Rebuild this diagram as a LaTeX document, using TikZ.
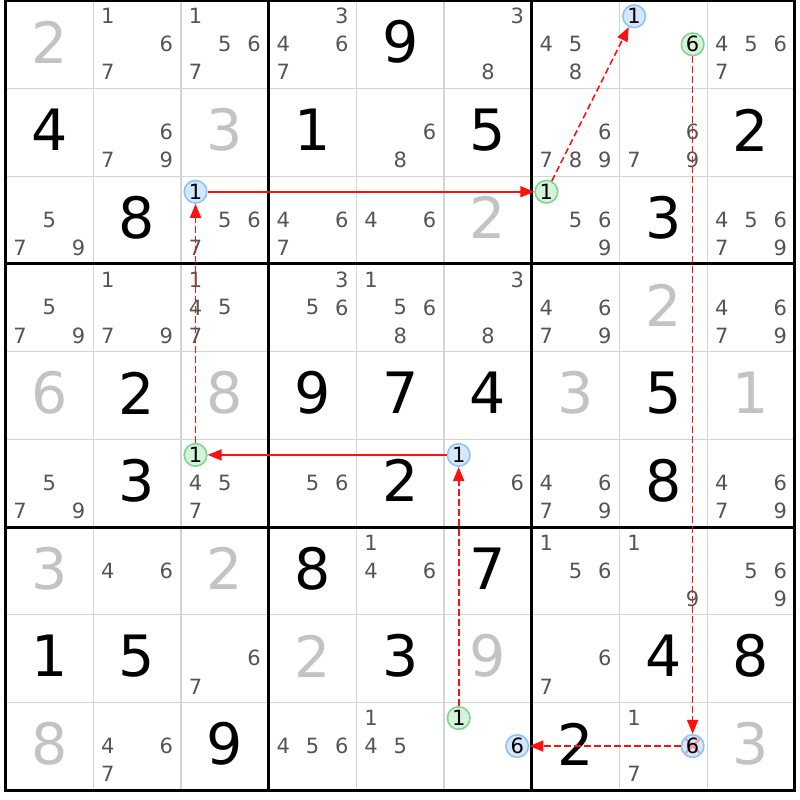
\documentclass[tikz,border=0pt]{standalone}
\usepackage{fontspec}
\setmainfont{DejaVu Sans}
\usetikzlibrary{arrows.meta}
\definecolor{candc}{HTML}{555555}
\definecolor{solvc}{HTML}{C3C3C3}
\definecolor{thinc}{HTML}{D4D4D4}
\definecolor{bfill}{HTML}{D5E8FB}
\definecolor{bdraw}{HTML}{8FC3F3}
\definecolor{gfill}{HTML}{D3F3DA}
\definecolor{gdraw}{HTML}{80D590}
\definecolor{linkc}{HTML}{FF1010}
\definecolor{xcol}{HTML}{F49A9A}
\newcommand\GX{5.5}
\newcommand\GY{0.8}
\newcommand\CW{87.72}
\tikzset{
 cand/.style={text=candc, inner sep=0pt, font=\fontsize{21}{21}\selectfont},
 big/.style={inner sep=0pt, font=\fontsize{57}{57}\selectfont},
 giv/.style={big, text=black},
 sol/.style={big, text=solvc},
 hlb/.style={circle, minimum size=22.6pt, inner sep=0pt, fill=bfill, draw=bdraw, line width=1.6pt, text=black, font=\fontsize{21}{21}\selectfont},
 hlg/.style={hlb, fill=gfill, draw=gdraw},
 hlx/.style={hlb, path picture={\draw[xcol, line width=2.2pt]
   ([shift={(-7pt,-7pt)}]path picture bounding box.center) -- ([shift={(7pt,7pt)}]path picture bounding box.center)
   ([shift={(-7pt,7pt)}]path picture bounding box.center) -- ([shift={(7pt,-7pt)}]path picture bounding box.center);}},
 strong/.style={draw=linkc, line width=1.6pt, -{Triangle[length=14pt,width=11pt]}},
 weak/.style={strong, dash pattern=on 6.5pt off 3.5pt},
 thinline/.style={draw=thinc, line width=1.3pt},
 thickline/.style={draw=black, line width=3pt},
}
\newcommand\cands[3]{\foreach \d in {#3}{\node[cand] (k#1#2\d) at ({\GX+(#2-1)*\CW+14.6+mod(\d-1,3)*29.24},{\GY+(#1-1)*\CW+15.5+floor((\d-1)/3)*28}) {\d};}}
\newcommand\hlc[5]{\node[#1] (#5) at ({\GX+(#3-1)*\CW+14.6+mod(#4-1,3)*29.24},{\GY+(#2-1)*\CW+15.5+floor((#4-1)/3)*28}) {#4};}
\newcommand\dig[4]{\node[#1] (d#2#3) at ({\GX+(#3-0.5)*\CW},{\GY+(#2-0.5)*\CW-2.5}) {#4};}
\begin{document}
\begin{tikzpicture}[x=1pt,y=-1pt]
\useasboundingbox (0,0) rectangle (800,800);
\fill[white] (0,0) rectangle (800,800);
% thin grid lines
\foreach \i in {1,2,4,5,7,8}{
  \draw[thinline] ({\GX+\i*\CW},\GY) -- ({\GX+\i*\CW},{\GY+9*\CW});
  \draw[thinline] (\GX,{\GY+\i*\CW}) -- ({\GX+9*\CW},{\GY+\i*\CW});
}
% thick grid lines
\foreach \i in {0,3,6,9}{
  \draw[thickline] ({\GX+\i*\CW},{\GY-1.5}) -- ({\GX+\i*\CW},{\GY+9*\CW+1.5});
  \draw[thickline] ({\GX-1.5},{\GY+\i*\CW}) -- ({\GX+9*\CW+1.5},{\GY+\i*\CW});
}
% row 1
\dig{sol}{1}{1}{2}
\cands{1}{2}{1,6,7}
\cands{1}{3}{1,5,6,7}
\cands{1}{4}{3,4,6,7}
\dig{giv}{1}{5}{9}
\cands{1}{6}{3,8}
\cands{1}{7}{4,5,8}
\hlc{hlb}{1}{8}{1}{A2}
\hlc{hlg}{1}{8}{6}{B1}
\cands{1}{9}{4,5,6,7}
% row 2
\dig{giv}{2}{1}{4}
\cands{2}{2}{6,7,9}
\dig{sol}{2}{3}{3}
\dig{giv}{2}{4}{1}
\cands{2}{5}{6,8}
\dig{giv}{2}{6}{5}
\cands{2}{7}{6,7,8,9}
\cands{2}{8}{6,7,9}
\dig{giv}{2}{9}{2}
% row 3
\cands{3}{1}{5,7,9}
\dig{giv}{3}{2}{8}
\hlc{hlb}{3}{3}{1}{P1}
\cands{3}{3}{5,6,7}
\cands{3}{4}{4,6,7}
\cands{3}{5}{4,6}
\dig{sol}{3}{6}{2}
\hlc{hlg}{3}{7}{1}{P2}
\cands{3}{7}{5,6,9}
\dig{giv}{3}{8}{3}
\cands{3}{9}{4,5,6,7,9}
% row 4
\cands{4}{1}{5,7,9}
\cands{4}{2}{1,7,9}
\cands{4}{3}{1,4,5,7}
\cands{4}{4}{3,5,6}
\cands{4}{5}{1,5,6,8}
\cands{4}{6}{3,8}
\cands{4}{7}{4,6,7,9}
\dig{sol}{4}{8}{2}
\cands{4}{9}{4,6,7,9}
% row 5
\dig{sol}{5}{1}{6}
\dig{giv}{5}{2}{2}
\dig{sol}{5}{3}{8}
\dig{giv}{5}{4}{9}
\dig{giv}{5}{5}{7}
\dig{giv}{5}{6}{4}
\dig{sol}{5}{7}{3}
\dig{giv}{5}{8}{5}
\dig{sol}{5}{9}{1}
% row 6
\cands{6}{1}{5,7,9}
\dig{giv}{6}{2}{3}
\hlc{hlg}{6}{3}{1}{Q3}
\cands{6}{3}{4,5,7}
\cands{6}{4}{5,6}
\dig{giv}{6}{5}{2}
\hlc{hlb}{6}{6}{1}{Q2}
\cands{6}{6}{6}
\cands{6}{7}{4,6,7,9}
\dig{giv}{6}{8}{8}
\cands{6}{9}{4,6,7,9}
% row 7
\dig{sol}{7}{1}{3}
\cands{7}{2}{4,6}
\dig{sol}{7}{3}{2}
\dig{giv}{7}{4}{8}
\cands{7}{5}{1,4,6}
\dig{giv}{7}{6}{7}
\cands{7}{7}{1,5,6}
\cands{7}{8}{1,9}
\cands{7}{9}{5,6,9}
% row 8
\dig{giv}{8}{1}{1}
\dig{giv}{8}{2}{5}
\cands{8}{3}{6,7}
\dig{sol}{8}{4}{2}
\dig{giv}{8}{5}{3}
\dig{sol}{8}{6}{9}
\cands{8}{7}{6,7}
\dig{giv}{8}{8}{4}
\dig{giv}{8}{9}{8}
% row 9
\dig{sol}{9}{1}{8}
\cands{9}{2}{4,6,7}
\dig{giv}{9}{3}{9}
\cands{9}{4}{4,5,6}
\cands{9}{5}{1,4,5}
\hlc{hlg}{9}{6}{1}{Q1}
\hlc{hlb}{9}{6}{6}{E2}
\dig{giv}{9}{7}{2}
\cands{9}{8}{1,7}
\hlc{hlx}{9}{8}{6}{E1}
\dig{sol}{9}{9}{3}
% links
\draw[strong] (P1) -- (P2);
\draw[weak] (P2) -- (A2);
\draw[weak] (B1) -- (E1);
\draw[weak] (E1) -- (E2);
\draw[weak] (Q1) -- (Q2);
\draw[strong] (Q2) -- (Q3);
\draw[weak] (Q3) -- (P1);
\end{tikzpicture}
\end{document}
